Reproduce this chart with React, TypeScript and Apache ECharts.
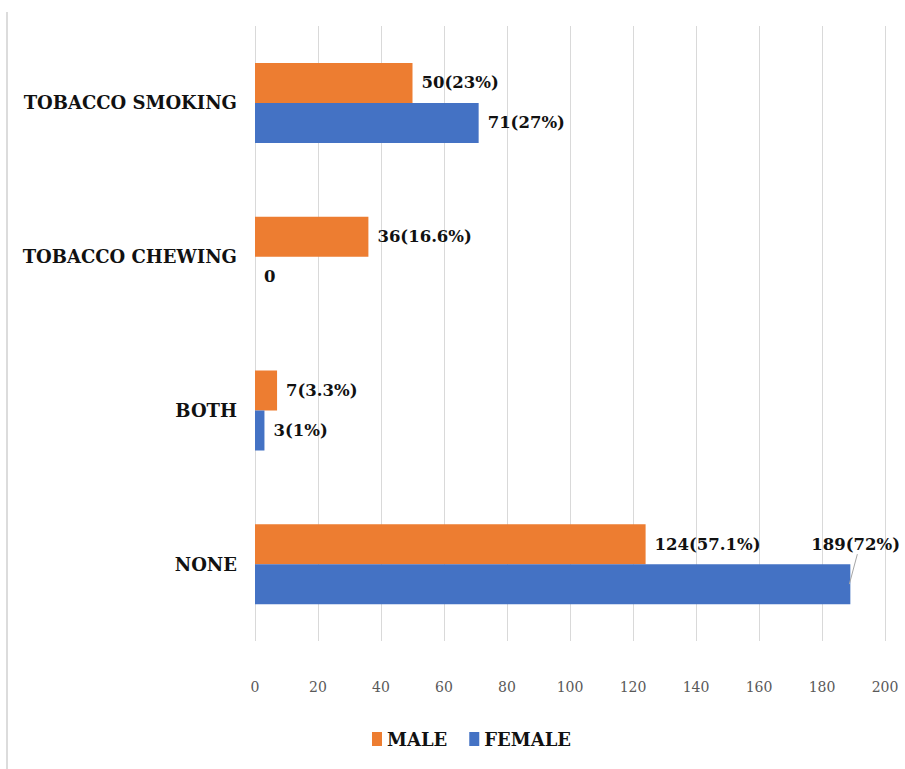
import React, { useEffect, useRef } from "react";
import * as echarts from "echarts";

const categories = ["TOBACCO SMOKING", "TOBACCO CHEWING", "BOTH", "NONE"];
const maleValues = [50, 36, 7, 124];
const femaleValues = [71, 0, 3, 189];
const maleLabels = ["50(23%)", "36(16.6%)", "7(3.3%)", "124(57.1%)"];
const femaleLabels = ["71(27%)", "0", "3(1%)", "189(72%)"];
const seriesNames = ["MALE", "FEMALE"];
const xTicks = { min: 0, max: 200, interval: 20 };

const SERIF = "DejaVu Serif";

export default function App() {
  const ref = useRef<HTMLDivElement>(null);
  useEffect(() => {
    if (!ref.current) return;
    const chart = echarts.init(ref.current, undefined, { renderer: "svg" });
    const labelStyle = {
      show: true,
      position: "right" as const,
      distance: 9,
      fontFamily: SERIF,
      fontWeight: "bold" as const,
      fontSize: 16.5,
      color: "#111",
    };
    const option: any = {
      animation: false,
      backgroundColor: "#fff",
      textStyle: { fontFamily: SERIF },
      grid: { left: 255, right: 20, top: 26, bottom: 128, containLabel: false },
      legend: {
        left: 367,
        top: 725,
        itemWidth: 10,
        itemHeight: 14,
        itemGap: 22,
        icon: "rect",
        textStyle: { fontFamily: SERIF, fontWeight: "bold", fontSize: 18, color: "#111" },
        data: seriesNames,
      },
      xAxis: {
        type: "value",
        min: xTicks.min,
        max: xTicks.max,
        interval: xTicks.interval,
        axisLine: { show: false },
        axisTick: { show: false },
        splitLine: { show: true, lineStyle: { color: "#D9D9D9", width: 1 } },
        axisLabel: { fontFamily: SERIF, fontSize: 14, color: "#595959", margin: 39 },
      },
      yAxis: {
        type: "category",
        inverse: true,
        data: categories,
        axisLine: { show: false },
        axisTick: { show: false },
        axisLabel: { fontFamily: SERIF, fontWeight: "bold", fontSize: 18, color: "#111", margin: 18 },
      },
      series: [
        {
          name: seriesNames[0],
          type: "bar",
          barWidth: 40,
          barGap: "0%",
          itemStyle: { color: "#ED7D31" },
          label: { ...labelStyle, formatter: (p: any) => maleLabels[p.dataIndex] },
          data: maleValues,
        },
        {
          name: seriesNames[1],
          type: "bar",
          barWidth: 40,
          barGap: "0%",
          itemStyle: { color: "#4472C4" },
          label: { ...labelStyle, formatter: (p: any) => femaleLabels[p.dataIndex] },
          data: femaleValues.map((v, i) =>
            i === 3 ? { value: v, label: { offset: [-48, -40] } } : v
          ),
        },
      ],
    };
    chart.setOption(option);
    const end = chart.convertToPixel({ gridIndex: 0 }, [femaleValues[3], 3]) as number[];
    chart.setOption({
      graphic: [
        {
          type: "line",
          shape: { x1: 7, y1: 12, x2: 7, y2: 769 },
          style: { stroke: "#D0D0D0", lineWidth: 1.5 },
        },
        {
          type: "line",
          shape: { x1: end[0] - 1, y1: end[1] + 20, x2: end[0] + 7, y2: end[1] - 10 },
          style: { stroke: "#A6A6A6", lineWidth: 1 },
          z: 10,
        },
      ],
    });
    return () => chart.dispose();
  }, []);
  return (
    <div
      ref={ref}
      style={{ position: "absolute", left: 0, top: 0, width: 905, height: 769 }}
    />
  );
}
